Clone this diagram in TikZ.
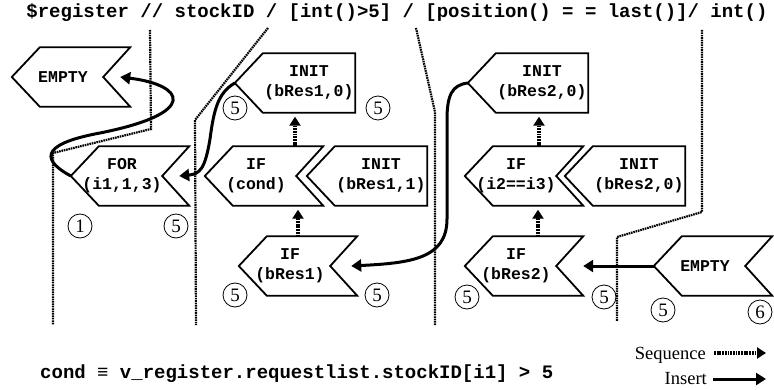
\documentclass[tikz,border=0pt]{standalone}
\usepackage{fontspec}
\setmainfont{Liberation Serif}
\newfontfamily\cour{Liberation Mono}
\usetikzlibrary{arrows.meta,calc}
\def\chevron#1(#2)#3{\node[shp] (#1) at (#2) {};
	\draw[outline] (#1.west) -- ([xshift=28pt]#1.north west) -- (#1.north east) -- ([xshift=-27pt]#1.east) -- (#1.south east) -- ([xshift=28pt]#1.south west) -- cycle;
	\node[lbl] (#1-t) at ([xshift=-8pt]#1.center) {#3};}
\def\tagbox#1(#2)#3{\node[tagshp] (#1) at (#2) {};
	\draw[outline] (#1.west) -- ([xshift=28pt]#1.north west) -- (#1.north east) -- (#1.south east) -- ([xshift=28pt]#1.south west) -- cycle;
	\node[lbl] (#1-t) at ([xshift=14pt]#1.center) {#3};}
\tikzset{
	shp/.style={minimum width=118pt, minimum height=59pt, inner sep=0pt},
	tagshp/.style={minimum width=120pt, minimum height=59pt, inner sep=0pt},
	outline/.style={line width=1.8pt, line join=miter},
	lbl/.style={font=\cour\bfseries\fontsize{16.5}{20}\selectfont, align=center, inner sep=0pt},
	ttl/.style={font=\cour\bfseries\fontsize{19}{22}\selectfont, inner sep=0pt},
	num/.style={circle, draw, line width=0.8pt, inner sep=0pt, minimum size=24pt, font=\fontsize{19}{22}\selectfont},
	leg/.style={font=\fontsize{18.5}{22}\selectfont, inner sep=0pt},
	part/.style={line width=2.2pt, dash pattern=on 1.6pt off 0.8pt},
	seq/.style={line width=3.2pt, dash pattern=on 1.8pt off 0.9pt, -{Triangle[width=11pt,length=9pt]}},
	ins/.style={line width=3pt, -{Triangle[width=12pt,length=10pt]}}
}

\begin{document}
\begin{tikzpicture}[x=1pt,y=1pt]
	\useasboundingbox (0,0) rectangle (774,389);
	
	\node[ttl, anchor=base] (title) at (397,371) {\$register // stockID / [int()>5] / [position() = = last()]/ int()};
	
	% partition lines
	\draw[part] (150,359) -- (151,260) -- (53,236) -- (53,64);
	\draw[part] (268,361) -- (195,269) -- (196,64);
	\draw[part] (416,361) -- (435,277) -- (435,64);
	\draw[part] (702,359) -- (702,177) -- (617,152) -- (617,68);
	
	\chevron{emptyL}(71,312){EMPTY}
	\chevron{for}(130,213){FOR\\(i1,1,3)}
	\chevron{ifcond}(264,213){IF\\(cond)}
	\tagbox{initbA}(367,213){INIT\\(bRes1,1)}
	\tagbox{initbB}(295,306){INIT\\(bRes1,0)}
	\chevron{ifbA}(298,123){IF\\(bRes1)}
	
	\tagbox{initbC}(528,306){INIT\\(bRes2,0)}
	\chevron{ifeq}(524,213){IF\\(i2==i3)}
	\tagbox{initbD}(625,213){INIT\\(bRes2,0)}
	\chevron{ifbB}(524,123){IF\\(bRes2)}
	\chevron{emptyR}(713,123){EMPTY}
	
	\node[num] (n1) at (80,163) {1};
	\node[num] (n2) at (176,163) {5};
	\node[num] (n3) at (235,281) {5};
	\node[num] (n4) at (378,281) {5};
	\node[num] (n5) at (235,94) {5};
	\node[num] (n6) at (377,94) {5};
	\node[num] (n7) at (467,92) {5};
	\node[num] (n8) at (604,92) {5};
	\node[num] (n9) at (663,79) {5};
	\node[num] (n10) at (760,77) {6};
	
	% sequence
	\draw[seq, shorten >=4pt] (ifbA.north) -- (ifbA.north |- ifcond.south);
	\draw[seq, shorten >=4pt] (initbB.south |- ifcond.north) -- (initbB.south);
	\draw[seq, shorten >=4pt] ([xshift=14pt]ifbB.north) -- ([xshift=14pt]ifbB.north |- ifeq.south);
	\draw[seq, shorten >=4pt] ([xshift=11pt]initbC.south |- ifeq.north) -- ([xshift=11pt]initbC.south);
	
	% insert
	\draw[ins] (for.west) .. controls (45,227) and (35,244) .. (100,256) .. controls (200,276) and (185,304) .. ([xshift=-10pt]emptyL.east);
	\draw[ins] (initbB.west) .. controls (218,296) and (214,280) .. (210,250) .. controls (205,220) and (200,215) .. ([xshift=-10pt]for.east);
	\draw[ins] (initbC.west) .. controls (452,304) and (447,294) .. (447,269) -- (447,170) .. controls (447,130) and (410,126) .. ([xshift=-6pt]ifbA.east);
	\draw[ins] (emptyR.west) -- (emptyR.west -| ifbB.east);
	
	\node[ttl, anchor=base west] (cond) at (40,11) {cond ≡ v\_register.requestlist.stockID[i1] > 5};
	
	% legend
	\node[leg, anchor=base east] (seqtxt) at (706,30) {Sequence};
	\coordinate (seqend) at (766,36);
	\draw[seq] ([xshift=8pt]seqtxt.east |- seqend) -- (seqend);
	\node[leg, anchor=base east] (instxt) at (707,5) {Insert};
	\coordinate (insend) at (766,10);
	\draw[ins] ([xshift=6pt]instxt.east |- insend) -- (insend);
\end{tikzpicture}
\end{document}
